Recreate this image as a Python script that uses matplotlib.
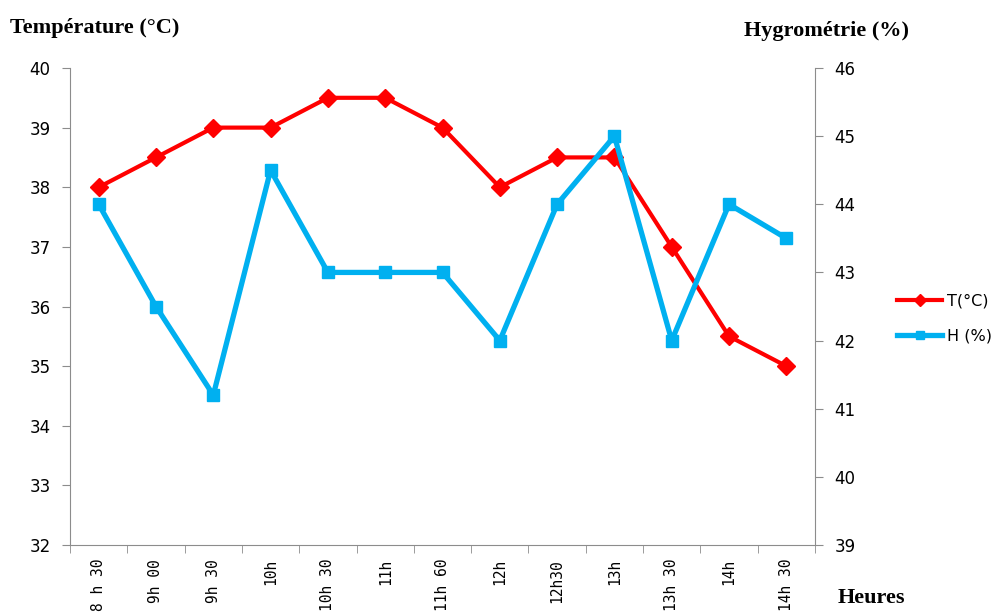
import matplotlib
matplotlib.use("Agg")
import matplotlib.pyplot as plt
import numpy as np

heures = ["8 h 30", "9h 00", "9h 30", "10h", "10h 30", "11h", "11h 60",
          "12h", "12h30", "13h", "13h 30", "14h", "14h 30"]
temperature = [38, 38.5, 39, 39, 39.5, 39.5, 39, 38, 38.5, 38.5, 37, 35.5, 35]
hygrometrie = [44, 42.5, 41.2, 44.5, 43, 43, 43, 42, 44, 45, 42, 44, 43.5]

red = "#FF0000"
blue = "#00B0F0"
grey = "#8C8C8C"

fig = plt.figure(figsize=(9.99, 6.13), dpi=100)
ax = fig.add_axes([0.0701, 0.1109, 0.7457, 0.7782])
ax2 = ax.twinx()

x = np.arange(len(heures))
l1, = ax.plot(x, temperature, color=red, lw=3, marker="D", ms=9,
              label="T(°C)", zorder=3)
l2, = ax2.plot(x, hygrometrie, color=blue, lw=3.8, marker="s", ms=9,
               label="H (%)", zorder=3)

ax.set_xlim(-0.5, len(heures) - 0.5)
ax.set_ylim(32, 40)
ax2.set_ylim(39, 46)
ax.set_yticks(np.arange(32, 41, 1))
ax2.set_yticks(np.arange(39, 47, 1))

ax.set_xticks(x)
ax.set_xticklabels(heures, rotation=90, fontsize=10.5,
                   family="DejaVu Sans Mono", va="top")
ax.set_xticks(np.arange(-0.5, len(heures), 1), minor=True)
ax.tick_params(axis="x", which="major", length=0, pad=10)
ax.tick_params(axis="x", which="minor", length=6, color=grey, direction="out")

for a in (ax, ax2):
    for s in a.spines.values():
        s.set_color(grey)
    a.spines["top"].set_visible(False)
ax.spines["right"].set_visible(False)
ax2.spines["left"].set_visible(False)
ax2.spines["bottom"].set_visible(False)

ax.tick_params(axis="y", length=6, color=grey, labelsize=12, pad=8)
ax2.tick_params(axis="y", length=6, color=grey, labelsize=12, pad=8)

serif = {"family": "Liberation Serif", "weight": "bold", "size": 16}
fig.text(0.010, 0.955, "Température (°C)", ha="left", va="center",
         fontdict=serif)
fig.text(0.745, 0.950, "Hygrométrie (%)", ha="left", va="center",
         fontdict=serif)
fig.text(0.838, 0.025, "Heures", ha="left", va="center", fontdict=serif)

fig.legend([l1, l2], ["T(°C)", "H (%)"], loc="center left",
           bbox_to_anchor=(0.884, 0.480), frameon=False, fontsize=11.5,
           handlelength=2.8, labelspacing=1.25, handletextpad=0.3,
           markerscale=0.7)

fig.savefig("out.png", dpi=100)
